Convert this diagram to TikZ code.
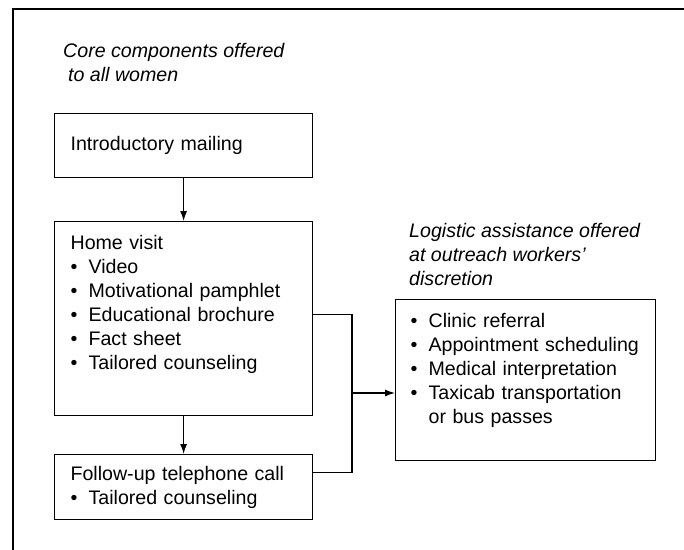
\documentclass[tikz,border=0pt]{standalone}
\usepackage{fontspec}
\setmainfont{Liberation Sans}
\usetikzlibrary{calc,shapes,arrows,arrows.meta,positioning}

\newcommand{\boxfont}{\fontsize{19.6pt}{24pt}\selectfont}
\newcommand{\itm}[1]{\makebox[18pt][l]{\textbullet}#1}
\newcommand{\cont}[1]{\hspace*{18pt}#1}
\newcommand{\vpad}[1]{\rule[-#1]{0pt}{#1}}

\tikzset{
  stage/.style={draw, line width=1.2pt, anchor=north west, text width=226pt,
    inner xsep=16pt, inner ysep=14pt, align=left, font=\boxfont},
  heading/.style={anchor=north west, inner sep=0pt, align=left, font=\boxfont\itshape},
  link/.style={line width=1.2pt},
  arr/.style={line width=1.2pt, -{Latex[length=10pt,width=7pt]}},
}

\begin{document}
\begin{tikzpicture}[x=1pt,y=-1pt]
    \useasboundingbox (0,0) rectangle (684,549);
    % outer frame, cut off at the right and bottom
    \draw[line width=2pt] (13,560) -- (13,9) -- (700,9);

    \node[heading] (core) at (63,43) {Core components offered\\\hspace*{5pt}to all women};
    \node[heading] (logistic) at (409,223) {Logistic assistance offered\\at outreach workers'\\discretion};

    \node[stage, minimum height=64pt, inner ysep=0pt] (intro) at (54,113) {Introductory mailing};
    \node[stage] (home) at (54,221) {Home visit\\ \itm{Video}\\ \itm{Motivational pamphlet}\\
        \itm{Educational brochure}\\ \itm{Fact sheet}\\ \itm{Tailored counseling}\vpad{32pt}};
    \node[stage, minimum height=65pt, inner ysep=0pt] (follow) at (54,454) {Follow-up telephone call\\
        \itm{Tailored counseling}};
    \node[stage, text width=230pt, inner xsep=15pt] (aid) at (395,299) {\itm{Clinic referral}\\
        \itm{Appointment scheduling}\\ \itm{Medical interpretation}\\ \itm{Taxicab transportation}\\
        \cont{or bus passes}\vpad{23pt}};

    \coordinate (merge) at (352,393);
    \draw[arr] (intro) -- (home);
    \draw[arr] (home) -- (follow);
    \draw[link] ([yshift=4pt]home.east) -| (merge);
    \draw[link] ([yshift=15pt]follow.east) -| (merge);
    \draw[arr] (merge) -- (merge -| aid.west);
\end{tikzpicture}
\end{document}
